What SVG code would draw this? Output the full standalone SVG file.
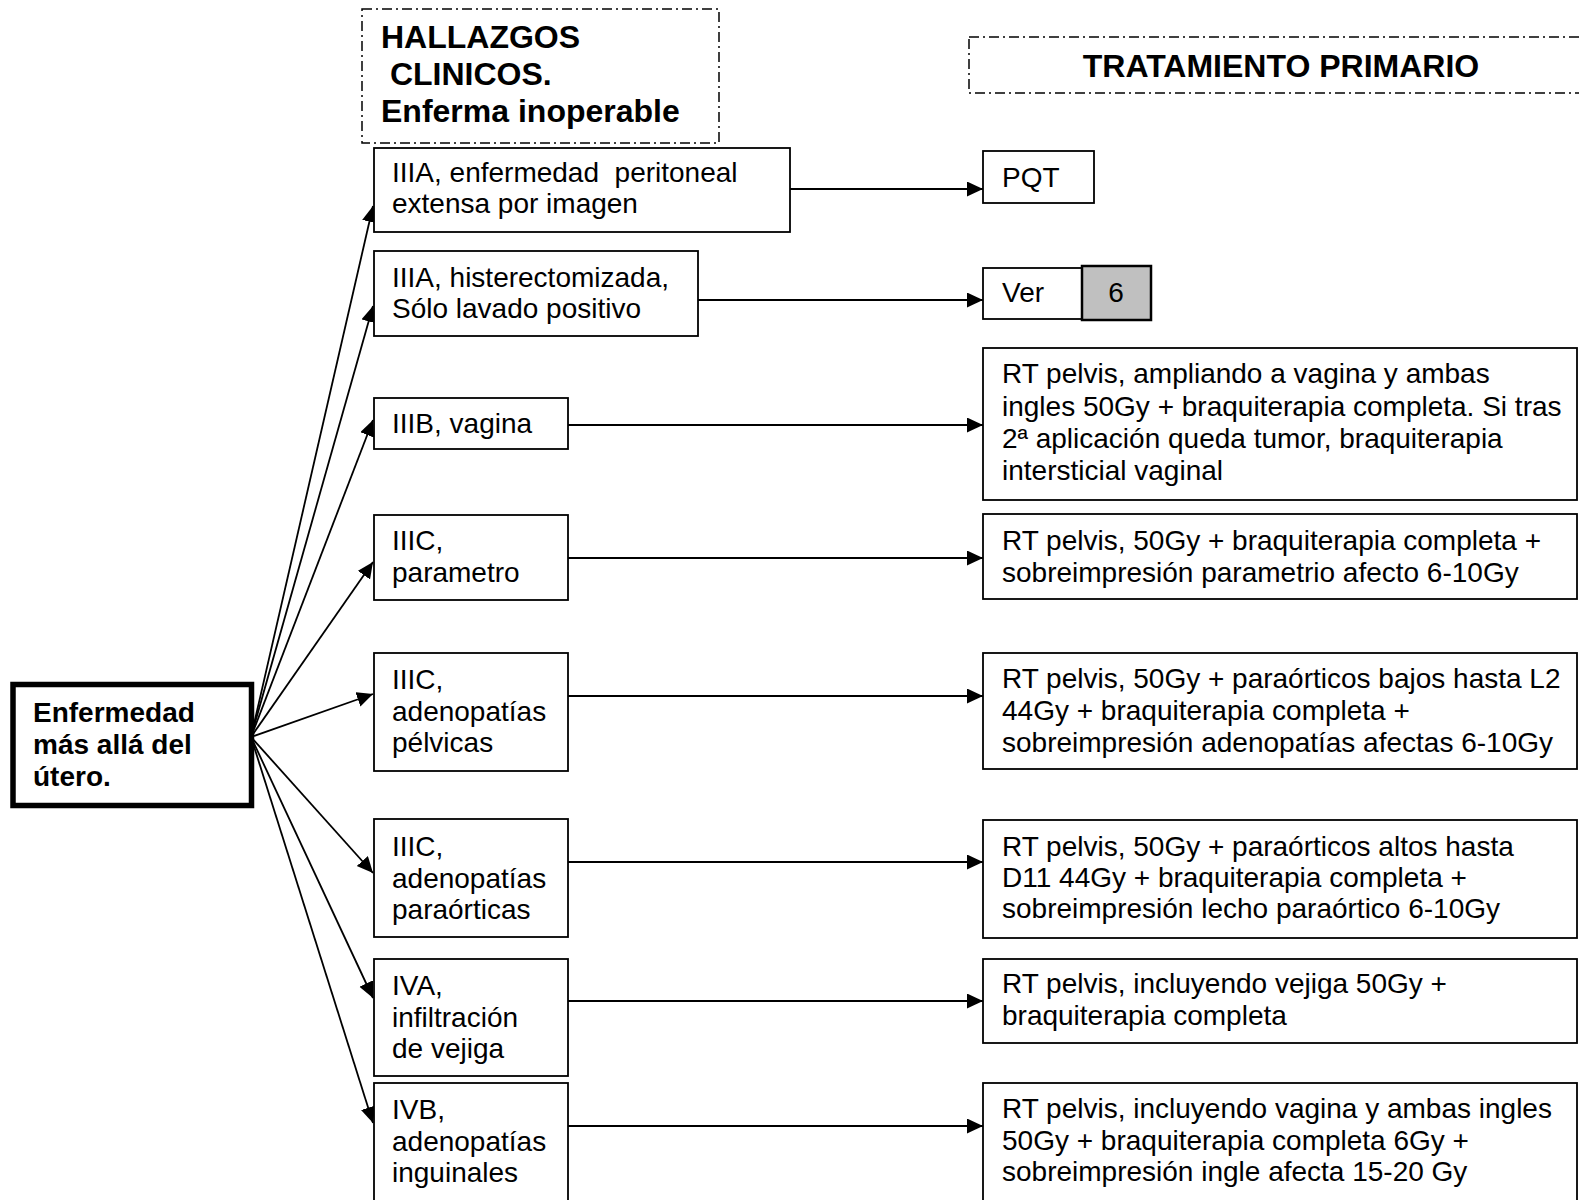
<svg xmlns="http://www.w3.org/2000/svg" width="1579" height="1200" viewBox="0 0 1579 1200">
<style>
.box{fill:#fff;stroke:#000;stroke-width:1.8}
.dash{fill:none;stroke:#000;stroke-width:1.5;stroke-dasharray:10 4 2 4}
.t{font-family:"Liberation Sans",Arial,sans-serif;font-size:28px;fill:#000;white-space:pre}
.b{font-family:"Liberation Sans",Arial,sans-serif;font-size:28px;font-weight:bold;fill:#000}
.h{font-family:"Liberation Sans",Arial,sans-serif;font-size:32px;font-weight:bold;fill:#000;white-space:pre}
.c{fill:none;stroke:#000;stroke-width:1.8}
</style>
<defs>
<marker id="ah" markerUnits="userSpaceOnUse" markerWidth="18" markerHeight="16" refX="16" refY="7.5" orient="auto">
<path d="M0,0 L16,7.5 L0,15 Z" fill="#000"/>
</marker>
</defs>
<rect width="1579" height="1200" fill="#fff"/>

<g id="hdr-hallazgos">
<rect class="dash" x="362" y="9" width="357" height="134"/>
<text class="h" x="381" y="48">HALLAZGOS</text>
<text class="h" x="381" y="85" xml:space="preserve"> CLINICOS.</text>
<text class="h" x="381" y="122">Enferma inoperable</text>
</g>
<g id="hdr-tratamiento">
<rect class="dash" x="969" y="37" width="640" height="56"/>
<text class="h" x="1281" y="77" text-anchor="middle">TRATAMIENTO PRIMARIO</text>
</g>

<g id="connectors">
<line class="c" x1="251" y1="737" x2="373" y2="206" marker-end="url(#ah)"/>
<line class="c" x1="251" y1="737" x2="373" y2="306" marker-end="url(#ah)"/>
<line class="c" x1="251" y1="737" x2="373" y2="420" marker-end="url(#ah)"/>
<line class="c" x1="251" y1="737" x2="373" y2="562" marker-end="url(#ah)"/>
<line class="c" x1="251" y1="737" x2="373" y2="694" marker-end="url(#ah)"/>
<line class="c" x1="251" y1="737" x2="373" y2="873" marker-end="url(#ah)"/>
<line class="c" x1="251" y1="737" x2="373" y2="998" marker-end="url(#ah)"/>
<line class="c" x1="251" y1="737" x2="373" y2="1123" marker-end="url(#ah)"/>
<line class="c" x1="790" y1="189" x2="983" y2="189" marker-end="url(#ah)"/>
<line class="c" x1="692" y1="300" x2="983" y2="300" marker-end="url(#ah)"/>
<line class="c" x1="568" y1="425" x2="983" y2="425" marker-end="url(#ah)"/>
<line class="c" x1="568" y1="558" x2="983" y2="558" marker-end="url(#ah)"/>
<line class="c" x1="568" y1="696" x2="983" y2="696" marker-end="url(#ah)"/>
<line class="c" x1="568" y1="862" x2="983" y2="862" marker-end="url(#ah)"/>
<line class="c" x1="568" y1="1001" x2="983" y2="1001" marker-end="url(#ah)"/>
<line class="c" x1="568" y1="1126" x2="983" y2="1126" marker-end="url(#ah)"/>
</g>

<g id="root">
<rect x="13" y="684.5" width="238.5" height="121" fill="#fff" stroke="#000" stroke-width="5.5"/>
<text class="b" x="33" y="722">Enfermedad</text>
<text class="b" x="33" y="754">más allá del</text>
<text class="b" x="33" y="786">útero.</text>
</g>

<g id="n-iiia-perit">
<rect class="box" x="374" y="148" width="416" height="84"/>
<text class="t" x="392" y="182" xml:space="preserve">IIIA, enfermedad  peritoneal</text>
<text class="t" x="392" y="213">extensa por imagen</text>
</g>
<g id="n-iiia-hist">
<rect class="box" x="374" y="251" width="324" height="85"/>
<text class="t" x="392" y="287">IIIA, histerectomizada,</text>
<text class="t" x="392" y="318">Sólo lavado positivo</text>
</g>
<g id="n-iiib">
<rect class="box" x="374" y="398" width="194" height="51"/>
<text class="t" x="392" y="433">IIIB, vagina</text>
</g>
<g id="n-iiic-param">
<rect class="box" x="374" y="515" width="194" height="85"/>
<text class="t" x="392" y="550">IIIC,</text>
<text class="t" x="392" y="582">parametro</text>
</g>
<g id="n-iiic-pelv">
<rect class="box" x="374" y="653" width="194" height="118"/>
<text class="t" x="392" y="689">IIIC,</text>
<text class="t" x="392" y="721">adenopatías</text>
<text class="t" x="392" y="752">pélvicas</text>
</g>
<g id="n-iiic-parao">
<rect class="box" x="374" y="819" width="194" height="118"/>
<text class="t" x="392" y="856">IIIC,</text>
<text class="t" x="392" y="888">adenopatías</text>
<text class="t" x="392" y="919">paraórticas</text>
</g>
<g id="n-iva">
<rect class="box" x="374" y="959" width="194" height="117"/>
<text class="t" x="392" y="995">IVA,</text>
<text class="t" x="392" y="1027">infiltración</text>
<text class="t" x="392" y="1058">de vejiga</text>
</g>
<g id="n-ivb">
<rect class="box" x="374" y="1083" width="194" height="130"/>
<text class="t" x="392" y="1119">IVB,</text>
<text class="t" x="392" y="1151">adenopatías</text>
<text class="t" x="392" y="1182">inguinales</text>
</g>

<g id="r-pqt">
<rect class="box" x="983" y="151" width="111" height="52"/>
<text class="t" x="1002" y="187">PQT</text>
</g>
<g id="r-ver">
<rect class="box" x="983" y="268" width="99" height="51"/>
<text class="t" x="1002" y="302">Ver</text>
<rect x="1082" y="266" width="69" height="54" fill="#c0c0c0" stroke="#000" stroke-width="2.5"/>
<text class="t" x="1116" y="302" text-anchor="middle">6</text>
</g>
<g id="r-vagina">
<rect class="box" x="983" y="348" width="594" height="152"/>
<text class="t" x="1002" y="383">RT pelvis, ampliando a vagina y ambas</text>
<text class="t" x="1002" y="416">ingles 50Gy + braquiterapia completa. Si tras</text>
<text class="t" x="1002" y="448">2ª aplicación queda tumor, braquiterapia</text>
<text class="t" x="1002" y="480">intersticial vaginal</text>
</g>
<g id="r-param">
<rect class="box" x="983" y="514" width="594" height="85"/>
<text class="t" x="1002" y="550">RT pelvis, 50Gy + braquiterapia completa +</text>
<text class="t" x="1002" y="582">sobreimpresión parametrio afecto 6-10Gy</text>
</g>
<g id="r-pelv">
<rect class="box" x="983" y="653" width="594" height="116"/>
<text class="t" x="1002" y="688">RT pelvis, 50Gy + paraórticos bajos hasta L2</text>
<text class="t" x="1002" y="720">44Gy + braquiterapia completa +</text>
<text class="t" x="1002" y="752">sobreimpresión adenopatías afectas 6-10Gy</text>
</g>
<g id="r-parao">
<rect class="box" x="983" y="820" width="594" height="118"/>
<text class="t" x="1002" y="856">RT pelvis, 50Gy + paraórticos altos hasta</text>
<text class="t" x="1002" y="887">D11 44Gy + braquiterapia completa +</text>
<text class="t" x="1002" y="918">sobreimpresión lecho paraórtico 6-10Gy</text>
</g>
<g id="r-vejiga">
<rect class="box" x="983" y="959" width="594" height="84"/>
<text class="t" x="1002" y="993">RT pelvis, incluyendo vejiga 50Gy +</text>
<text class="t" x="1002" y="1025">braquiterapia completa</text>
</g>
<g id="r-ingles">
<rect class="box" x="983" y="1083" width="594" height="130"/>
<text class="t" x="1002" y="1118">RT pelvis, incluyendo vagina y ambas ingles</text>
<text class="t" x="1002" y="1150">50Gy + braquiterapia completa 6Gy +</text>
<text class="t" x="1002" y="1181">sobreimpresión ingle afecta 15-20 Gy</text>
</g>
</svg>
